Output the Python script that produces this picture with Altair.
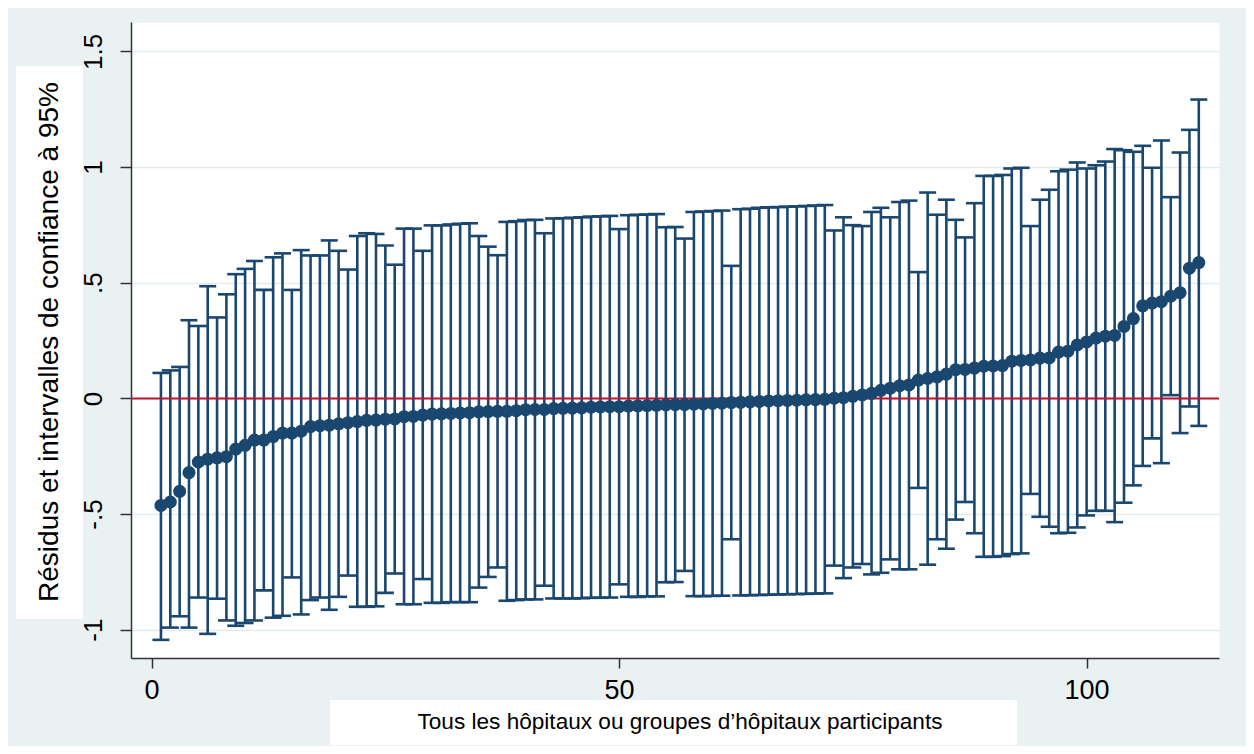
import altair as alt
import pandas as pd

# ---------------- data ----------------
hospital = list(range(1, 113))

residual = [
    -0.463, -0.448, -0.402, -0.321, -0.275, -0.263, -0.257, -0.252, -0.219, -0.203,
    -0.180, -0.180, -0.165, -0.150, -0.150, -0.142, -0.122, -0.118, -0.116, -0.110,
    -0.105, -0.100, -0.095, -0.094, -0.090, -0.089, -0.079, -0.078, -0.072, -0.068,
    -0.067, -0.065, -0.063, -0.062, -0.058, -0.057, -0.056, -0.056, -0.053, -0.049,
    -0.048, -0.048, -0.044, -0.043, -0.042, -0.041, -0.038, -0.037, -0.036, -0.036,
    -0.033, -0.032, -0.031, -0.030, -0.028, -0.027, -0.027, -0.025, -0.024, -0.022,
    -0.021, -0.018, -0.017, -0.015, -0.013, -0.011, -0.010, -0.009, -0.008, -0.006,
    -0.005, -0.004, 0.001, 0.003, 0.009, 0.015, 0.022, 0.035, 0.044, 0.055,
    0.058, 0.079, 0.086, 0.093, 0.105, 0.124, 0.125, 0.131, 0.139, 0.140,
    0.142, 0.161, 0.164, 0.166, 0.174, 0.175, 0.200, 0.204, 0.231, 0.244,
    0.261, 0.269, 0.272, 0.311, 0.345, 0.400, 0.412, 0.418, 0.442, 0.457,
    0.563, 0.587,
]

ci_upper = [
    0.110, 0.121, 0.136, 0.338, 0.313, 0.485, 0.350, 0.450, 0.537, 0.560,
    0.594, 0.469, 0.610, 0.627, 0.469, 0.641, 0.618, 0.618, 0.683, 0.638,
    0.557, 0.702, 0.714, 0.711, 0.661, 0.578, 0.734, 0.734, 0.638, 0.748,
    0.748, 0.752, 0.755, 0.757, 0.702, 0.656, 0.619, 0.763, 0.766, 0.771,
    0.772, 0.714, 0.778, 0.779, 0.781, 0.783, 0.786, 0.787, 0.789, 0.732,
    0.792, 0.794, 0.795, 0.797, 0.740, 0.741, 0.691, 0.806, 0.808, 0.810,
    0.812, 0.573, 0.818, 0.820, 0.824, 0.826, 0.827, 0.829, 0.830, 0.832,
    0.834, 0.836, 0.726, 0.783, 0.749, 0.745, 0.806, 0.824, 0.783, 0.849,
    0.855, 0.546, 0.890, 0.794, 0.859, 0.772, 0.696, 0.844, 0.962, 0.962,
    0.966, 0.994, 0.997, 0.745, 0.859, 0.902, 0.982, 0.989, 1.020, 0.994,
    1.008, 1.024, 1.078, 1.073, 1.066, 1.092, 0.997, 1.115, 0.870, 1.063,
    1.161, 1.292,
]

ci_lower = [
    -1.044, -0.991, -0.942, -0.991, -0.861, -1.018, -0.866, -0.960, -0.983, -0.971,
    -0.960, -0.830, -0.948, -0.940, -0.774, -0.934, -0.872, -0.861, -0.914, -0.858,
    -0.766, -0.901, -0.901, -0.899, -0.841, -0.757, -0.890, -0.890, -0.781, -0.884,
    -0.884, -0.881, -0.881, -0.881, -0.818, -0.772, -0.731, -0.875, -0.872, -0.869,
    -0.869, -0.810, -0.865, -0.865, -0.865, -0.864, -0.862, -0.862, -0.861, -0.804,
    -0.858, -0.858, -0.856, -0.856, -0.795, -0.794, -0.746, -0.855, -0.855, -0.854,
    -0.853, -0.609, -0.852, -0.851, -0.850, -0.849, -0.848, -0.847, -0.846, -0.845,
    -0.844, -0.843, -0.723, -0.777, -0.731, -0.716, -0.761, -0.754, -0.696, -0.739,
    -0.739, -0.387, -0.719, -0.609, -0.650, -0.524, -0.448, -0.583, -0.685, -0.685,
    -0.682, -0.673, -0.670, -0.413, -0.512, -0.555, -0.583, -0.581, -0.558, -0.506,
    -0.486, -0.486, -0.535, -0.451, -0.376, -0.292, -0.173, -0.280, 0.014, -0.150,
    -0.035, -0.119,
]

x_ticks = [0, 50, 100]
y_ticks = [-1, -0.5, 0, 0.5, 1, 1.5]
y_tick_labels = ["-1", "-.5", "0", ".5", "1", "1.5"]
reference_line = [0]
x_title = "Tous les hôpitaux ou groupes d\u2019hôpitaux participants"
y_title = "Résidus et intervalles de confiance à 95%"

# ---------------- styling ----------------
NAVY = "#1A476F"
RED = "#C3112F"
BG = "#EAF1F3"
GRID = "#E2EBEE"
AXIS = "#333333"
FONT = "Liberation Sans"

df = pd.DataFrame({"h": hospital, "r": residual, "lo": ci_lower, "hi": ci_upper})

xscale = alt.Scale(domain=[-2.203, 114.16], nice=False, zero=False)
yscale = alt.Scale(domain=[-1.1224, 1.6273], nice=False, zero=False)

label_expr = " : ".join(
    f"datum.value == {v} ? '{t}'" for v, t in zip(y_ticks, y_tick_labels)
) + " : datum.label"

x_axis = alt.Axis(values=x_ticks, title=None, grid=False, labelAngle=0,
                  labelFont=FONT, labelFontSize=27, labelColor="black",
                  labelPadding=9, tickSize=10, tickColor=AXIS, tickWidth=1.5,
                  domainColor=AXIS, domainWidth=1.5, labelFlush=False)

y_axis = alt.Axis(values=y_ticks, labelExpr=label_expr, title=None,
                  labelAngle=270, labelAlign="center", labelBaseline="alphabetic",
                  labelFont=FONT, labelFontSize=26, labelColor="black",
                  labelPadding=19, tickSize=11, tickColor=AXIS, tickWidth=1.5,
                  domainColor=AXIS, domainWidth=1.5, grid=True,
                  gridColor=GRID, gridWidth=1.5, labelFlush=False)


def X():
    return alt.X("h:Q", scale=xscale, axis=x_axis)


def Y(field):
    return alt.Y(field, scale=yscale, axis=y_axis)


base = alt.Chart(df)

# title background boxes (decoration)
box_df = pd.DataFrame({"k": [0]})
ybox = alt.Chart(box_df).mark_rect(color="white").encode(
    x=alt.value(-115), x2=alt.value(-48), y=alt.value(44), y2=alt.value(597))
xbox = alt.Chart(box_df).mark_rect(color="white").encode(
    x=alt.value(199), x2=alt.value(886), y=alt.value(678), y2=alt.value(723))

zero_line = alt.Chart(pd.DataFrame({"y0": reference_line})).mark_rule(
    color=RED, strokeWidth=2).encode(y=Y("y0:Q"))

bars = base.mark_rule(color=NAVY, strokeWidth=2.6).encode(
    x=X(), y=Y("lo:Q"), y2="hi:Q")
cap_hi = base.mark_tick(orient="horizontal", size=17, thickness=2.6, color=NAVY,
                        opacity=1).encode(x=X(), y=Y("hi:Q"))
cap_lo = base.mark_tick(orient="horizontal", size=17, thickness=2.6, color=NAVY,
                        opacity=1).encode(x=X(), y=Y("lo:Q"))
points = base.mark_circle(size=170, color=NAVY, opacity=1).encode(
    x=X(), y=Y("r:Q"))

ytitle = alt.Chart(pd.DataFrame({"t": [y_title]})).mark_text(
    angle=270, align="center", baseline="alphabetic", font=FONT, fontSize=28,
    color="black").encode(text="t:N", x=alt.value(-73), y=alt.value(320))
xtitle = alt.Chart(pd.DataFrame({"t": [x_title]})).mark_text(
    align="center", baseline="alphabetic", font=FONT, fontSize=22.6,
    color="black").encode(text="t:N", x=alt.value(549), y=alt.value(707))

chart = alt.layer(
    ybox, xbox, bars, zero_line, cap_hi, cap_lo, points, ytitle, xtitle
).properties(
    width=1088, height=636,
    autosize=alt.AutoSizeParams(type="none"),
    padding={"left": 123, "top": 14, "right": 27, "bottom": 88},
    background=BG,
).configure_view(fill="white", stroke="transparent")

chart.save("out.html", embed_options={"renderer": "svg", "actions": False})
